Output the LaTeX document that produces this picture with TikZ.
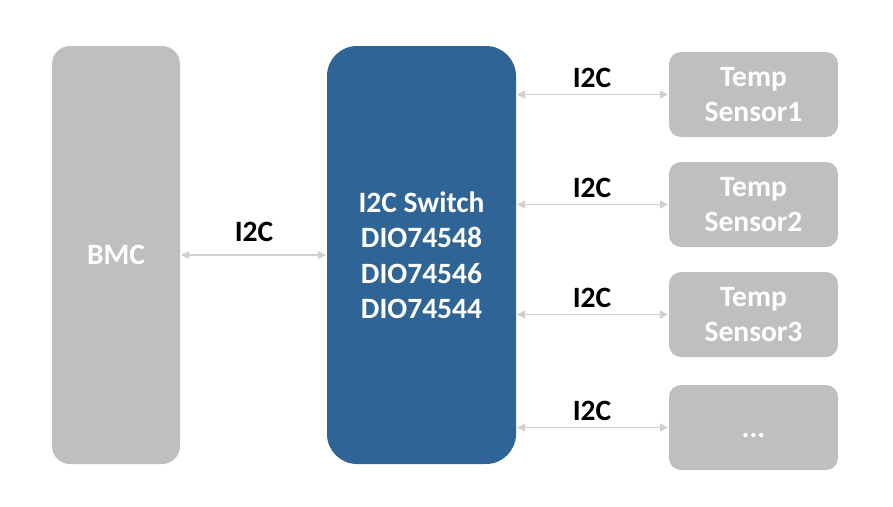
\documentclass[tikz,border=0pt]{standalone}
\usepackage{fontspec}
\setmainfont{Carlito}
\usetikzlibrary{arrows.meta}
\definecolor{boxgray}{HTML}{BFBFBF}
\definecolor{swblue}{HTML}{2E6496}
\definecolor{arrgray}{HTML}{D0D0D0}
\tikzset{
  graybox/.style={fill=boxgray, draw=none, rounded corners=12pt, text=white, font=\fontsize{29.5}{35.5}\selectfont\bfseries, align=center, inner sep=0pt},
  link/.style={draw=arrgray, line width=1.6pt, {Triangle[length=8pt,width=8pt]}-{Triangle[length=8pt,width=8pt]}, shorten <=1pt, shorten >=1pt},
  lbl/.style={font=\fontsize{29.5}{32}\selectfont\bfseries, text=black, inner sep=0pt}
}
\begin{document}
\begin{tikzpicture}[x=1pt,y=-1pt]
\useasboundingbox (0,0) rectangle (893,506);
\node[graybox, rounded corners=18pt, minimum width=128pt, minimum height=418pt] (bmc) at (116,255) {BMC};
\node[graybox, fill=swblue, rounded corners=30pt, minimum width=189pt, minimum height=418pt] (sw) at (421.5,255) {I2C Switch\\DIO74548\\DIO74546\\DIO74544};
\node[graybox, minimum width=169pt, minimum height=85pt] (s1) at (753.5,94.5) {Temp\\Sensor1};
\node[graybox, minimum width=169pt, minimum height=85pt] (s2) at (753.5,204.5) {Temp\\Sensor2};
\node[graybox, minimum width=169pt, minimum height=85pt] (s3) at (753.5,314.5) {Temp\\Sensor3};
\node[graybox, align=none, minimum width=169pt, minimum height=85pt, text height=0pt, text depth=0pt] (s4) at (753.5,427.5) {\raisebox{-10pt}[0pt][0pt]{...}};
\draw[link] (bmc.east) -- (sw.west);
\draw[link] (sw.east |- s1.west) -- (s1.west);
\draw[link] (sw.east |- s2.west) -- (s2.west);
\draw[link] (sw.east |- s3.west) -- (s3.west);
\draw[link] (sw.east |- s4.west) -- (s4.west);
\node[lbl] (l0) at (254,232) {I2C};
\node[lbl] (l1) at (592,78) {I2C};
\node[lbl] (l2) at (592,188) {I2C};
\node[lbl] (l3) at (592,298) {I2C};
\node[lbl] (l4) at (592,411) {I2C};
\end{tikzpicture}
\end{document}
